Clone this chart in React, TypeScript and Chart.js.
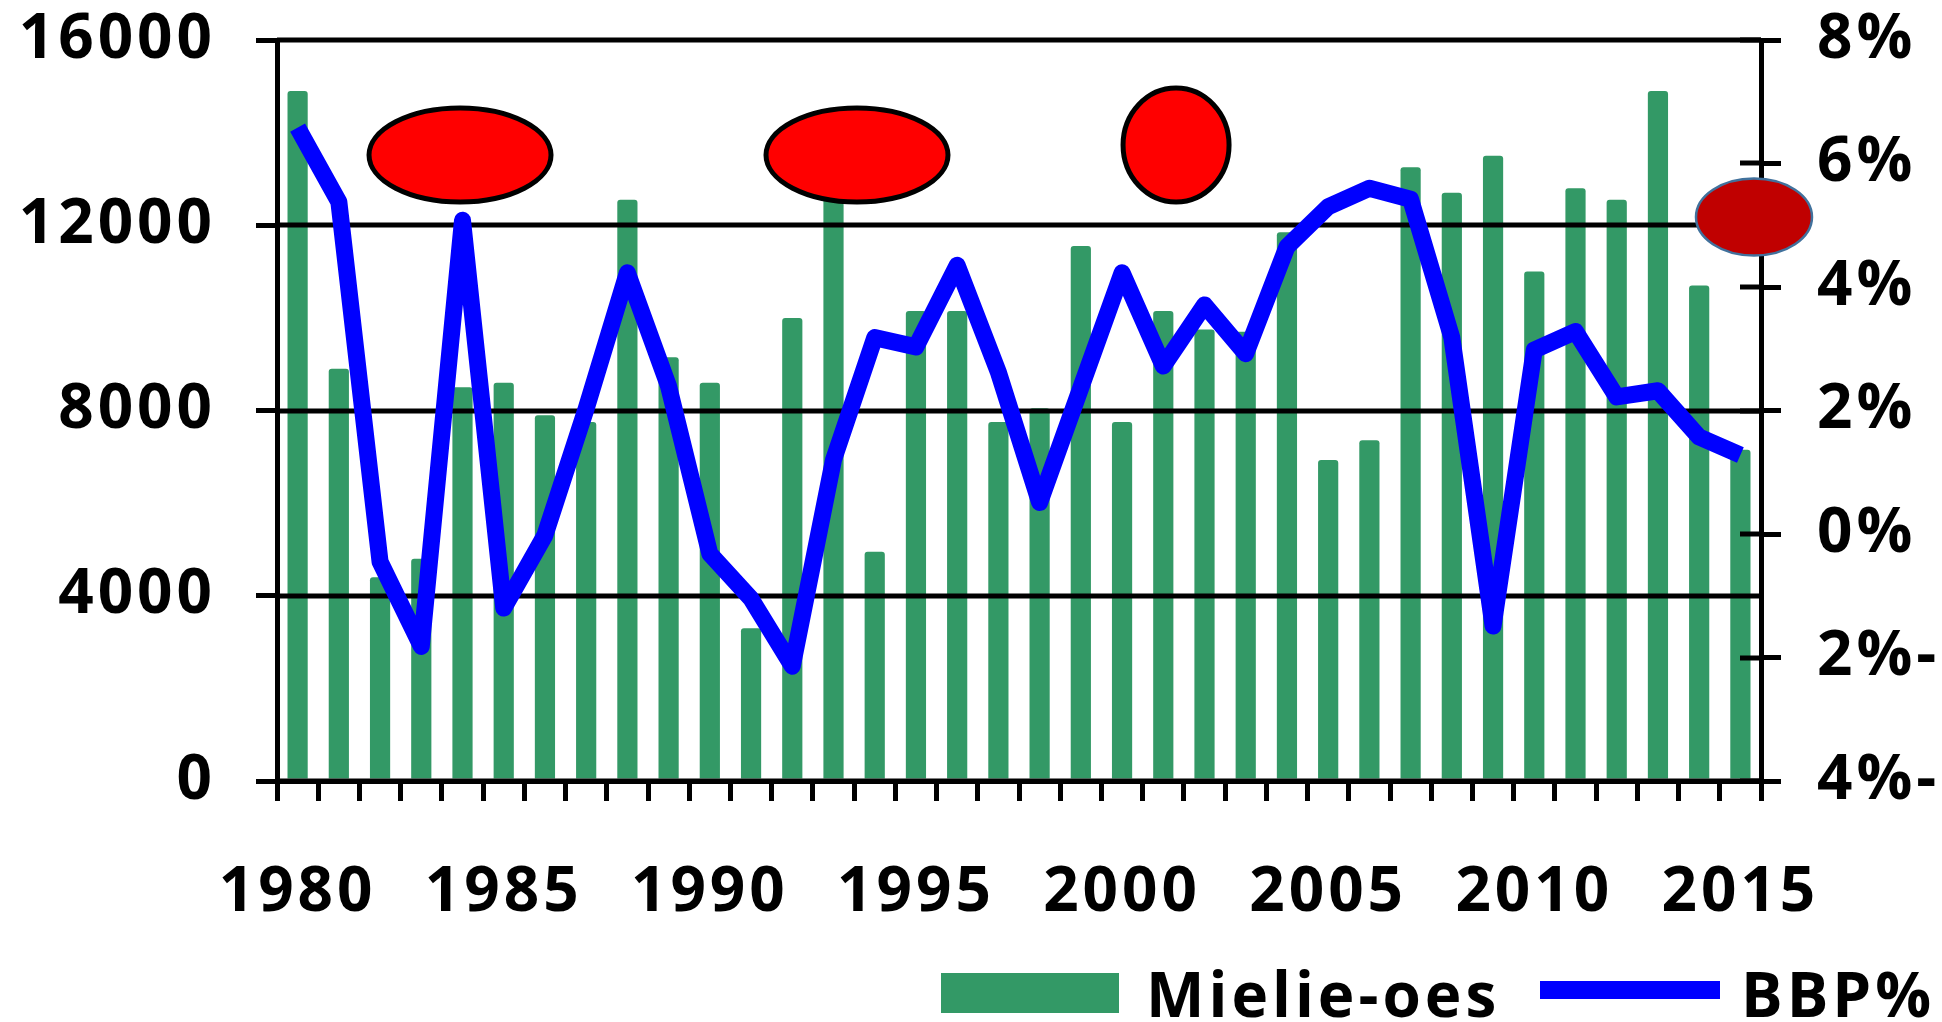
import React, { useEffect, useRef } from 'react';
import { Chart, registerables } from 'chart.js';

Chart.register(...registerables);

// ---- data ----
const years = [
  '1980', '1981', '1982', '1983', '1984', '1985', '1986', '1987', '1988', '1989',
  '1990', '1991', '1992', '1993', '1994', '1995', '1996', '1997', '1998', '1999',
  '2000', '2001', '2002', '2003', '2004', '2005', '2006', '2007', '2008', '2009',
  '2010', '2011', '2012', '2013', '2014', '2015',
];

const maizeHarvest = [
  14900, 8900, 4400, 4800, 8500, 8600, 7900, 7750, 12550, 9150,
  8600, 3300, 10000, 12800, 4950, 10150, 10150, 7750, 8050, 11550,
  7750, 10150, 9750, 9700, 11850, 6930, 7360, 13250, 12700, 13500,
  11000, 12800, 12550, 14900, 10700, 7150,
];

const gdpGrowth = [
  6.58, 5.38, -0.45, -1.82, 5.08, -1.2, -0.02, 2.03, 4.23, 2.39,
  -0.32, -1.05, -2.14, 1.2, 3.18, 3.03, 4.35, 2.62, 0.51, 2.37,
  4.23, 2.72, 3.71, 2.92, 4.65, 5.3, 5.6, 5.42, 3.18, -1.49,
  2.98, 3.28, 2.22, 2.32, 1.57, 1.28,
];

const seriesLabels = ['Mielie-oes', 'BBP%'];
const leftAxisRange = [0, 16000];
const leftAxisStep = 4000;
const rightAxisRange = [-4, 8];
const rightAxisStep = 2;

// decorative ellipses: category position (fractional index) and left-axis value
const markerAt = [3.94, 13.57, 21.31, 35.33];
const markerValue = [13517, 13517, 13733, 12178];

// ---- styles ----
const GREEN = '#339966';
const BLUE = '#0000FF';
const FONT_FAMILY = '"Open Sans", "Noto Sans", sans-serif';
const FONT_SIZE = 62;
const markerStyles = [
  { rx: 91, ry: 47, fill: '#FF0000', stroke: '#000000', lw: 5 },
  { rx: 91, ry: 47, fill: '#FF0000', stroke: '#000000', lw: 5 },
  { rx: 53, ry: 57, fill: '#FF0000', stroke: '#000000', lw: 5 },
  { rx: 58, ry: 38.5, fill: '#C00000', stroke: '#41719C', lw: 2.5 },
];

const spacingPlugin = {
  id: 'letterSpacing',
  beforeUpdate(chart: any) {
    chart.ctx.letterSpacing = '4px';
  },
  beforeDraw(chart: any) {
    chart.ctx.letterSpacing = '4px';
  },
};

const gridPlugin = {
  id: 'gridOverBars',
  beforeDatasetDraw(chart: any, args: any) {
    if (args.index !== 1) return;
    const { ctx, chartArea } = chart;
    const y = chart.scales.y;
    ctx.save();
    ctx.strokeStyle = '#000000';
    ctx.lineWidth = 5;
    y.ticks.forEach((t: any) => {
      const py = Math.round(y.getPixelForValue(t.value));
      ctx.beginPath();
      ctx.moveTo(chartArea.left, py);
      ctx.lineTo(chartArea.right, py);
      ctx.stroke();
    });
    ctx.restore();
  },
};

const decorPlugin = {
  id: 'decor',
  afterDraw(chart: any) {
    const { ctx } = chart;
    const x = chart.scales.x;
    const y = chart.scales.y;
    const y2 = chart.scales.y2;
    ctx.save();
    // inner part of the right-axis ticks
    ctx.strokeStyle = '#000000';
    ctx.lineWidth = 5;
    y2.ticks.forEach((t: any) => {
      const py = Math.round(y2.getPixelForValue(t.value));
      ctx.beginPath();
      ctx.moveTo(y2.left - 21, py);
      ctx.lineTo(y2.left, py);
      ctx.stroke();
    });
    // ellipses
    markerAt.forEach((pos, i) => {
      const s = markerStyles[i];
      const cx = x.getPixelForValue(pos);
      const cy = y.getPixelForValue(markerValue[i]);
      ctx.beginPath();
      ctx.ellipse(cx, cy, s.rx, s.ry, 0, 0, Math.PI * 2);
      ctx.fillStyle = s.fill;
      ctx.fill();
      ctx.lineWidth = s.lw;
      ctx.strokeStyle = s.stroke;
      ctx.stroke();
    });
    // legend
    const ds = chart.data.datasets;
    ctx.letterSpacing = '4px';
    ctx.font = `bold ${FONT_SIZE}px ${FONT_FAMILY}`;
    ctx.textBaseline = 'alphabetic';
    ctx.textAlign = 'left';
    ctx.fillStyle = ds[0].backgroundColor;
    ctx.fillRect(941, 973, 178, 40);
    ctx.fillStyle = '#000000';
    ctx.fillText(ds[0].label, 1146, 1017);
    ctx.strokeStyle = ds[1].borderColor;
    ctx.lineWidth = 18;
    ctx.beginPath();
    ctx.moveTo(1540, 990);
    ctx.lineTo(1720, 990);
    ctx.stroke();
    ctx.fillStyle = '#000000';
    ctx.fillText(ds[1].label, 1741, 1017);
    ctx.restore();
  },
};

const zeroPad = (s: any) => {
  s.paddingTop = 0;
  s.paddingBottom = 0;
};

export default function App() {
  const ref = useRef<HTMLCanvasElement | null>(null);

  useEffect(() => {
    if (!ref.current) return;
    const font = { family: FONT_FAMILY, size: FONT_SIZE, weight: 'bold' as const };
    const chart = new Chart(ref.current, {
      type: 'bar',
      data: {
        labels: years,
        datasets: [
          {
            type: 'bar',
            label: seriesLabels[0],
            data: maizeHarvest,
            backgroundColor: GREEN,
            barPercentage: 0.49,
            categoryPercentage: 1.0,
            borderRadius: { topLeft: 3, topRight: 3, bottomLeft: 0, bottomRight: 0 },
            borderSkipped: false,
            yAxisID: 'y',
            order: 2,
          },
          {
            type: 'line',
            label: seriesLabels[1],
            data: gdpGrowth,
            borderColor: BLUE,
            backgroundColor: BLUE,
            borderWidth: 17,
            borderJoinStyle: 'round',
            borderCapStyle: 'butt',
            pointRadius: 0,
            tension: 0,
            fill: false,
            yAxisID: 'y2',
            order: 1,
          },
        ],
      },
      options: {
        responsive: false,
        animation: false,
        devicePixelRatio: 1,
        layout: { padding: { top: 40, right: 0, bottom: 90, left: 0 } },
        plugins: {
          legend: { display: false },
          tooltip: { enabled: false },
        },
        scales: {
          x: {
            type: 'category',
            offset: true,
            afterFit: (s: any) => {
              s.height = 151;
              s.paddingLeft = 0;
              s.paddingRight = 0;
            },
            grid: {
              display: true,
              offset: true,
              drawOnChartArea: false,
              drawTicks: true,
              tickLength: 20,
              color: '#000000',
              lineWidth: 5,
            },
            border: { display: true, color: '#000000', width: 5 },
            ticks: {
              autoSkip: false,
              maxRotation: 0,
              minRotation: 0,
              padding: 55,
              color: '#000000',
              font,
              callback: (_v: any, i: number) => (Number(years[i]) % 5 === 0 ? years[i] : ''),
            },
          },
          y: {
            type: 'linear',
            position: 'left',
            min: leftAxisRange[0],
            max: leftAxisRange[1],
            afterFit: (s: any) => {
              s.width = 277;
              zeroPad(s);
            },
            grid: {
              drawOnChartArea: false,
              drawTicks: true,
              tickLength: 21,
              color: '#000000',
              lineWidth: 5,
            },
            border: { display: true, color: '#000000', width: 5 },
            ticks: {
              stepSize: leftAxisStep,
              padding: 40,
              color: '#000000',
              font,
              callback: (v: any) => String(v),
            },
          },
          y2: {
            type: 'linear',
            position: 'right',
            min: rightAxisRange[0],
            max: rightAxisRange[1],
            afterFit: (s: any) => {
              s.width = 181;
              zeroPad(s);
            },
            grid: {
              drawOnChartArea: false,
              drawTicks: true,
              tickLength: 20,
              color: '#000000',
              lineWidth: 5,
            },
            border: { display: true, color: '#000000', width: 5 },
            ticks: {
              stepSize: rightAxisStep,
              padding: 36,
              color: '#000000',
              font,
              callback: (v: any) => (v < 0 ? `${-v}%-` : `${v}%`),
            },
          },
        },
      },
      plugins: [spacingPlugin, gridPlugin, decorPlugin],
    });
    return () => chart.destroy();
  }, []);

  return (
    <div style={{ position: 'absolute', left: 0, top: 0, width: 1942, height: 1022, background: '#ffffff' }}>
      <canvas ref={ref} width={1942} height={1022} style={{ display: 'block', width: 1942, height: 1022 }} />
    </div>
  );
}
